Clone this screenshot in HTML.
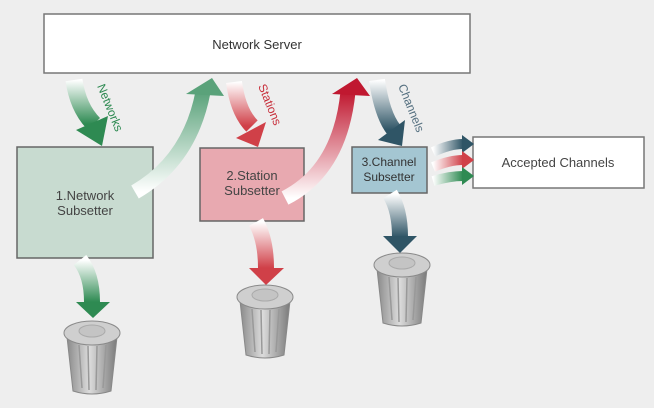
<!DOCTYPE html>
<html><head><style>
body{margin:0;width:654px;height:403px;background:#eeeeee;overflow:hidden;font-family:"Liberation Sans",sans-serif}
</style></head><body>
<svg width="654" height="403" viewBox="0 0 654 403" xmlns="http://www.w3.org/2000/svg" font-family="Liberation Sans, sans-serif">
<defs>
<linearGradient id="gd" x1="0" y1="0" x2="0" y2="1"><stop offset="0" stop-color="#fff"/><stop offset="1" stop-color="#2e8a52"/></linearGradient>
<linearGradient id="gu" x1="0" y1="1" x2="0" y2="0"><stop offset="0" stop-color="#fff"/><stop offset="1" stop-color="#5aa27a"/></linearGradient>
<linearGradient id="rd" x1="0" y1="0" x2="0" y2="1"><stop offset="0" stop-color="#fff"/><stop offset="1" stop-color="#d04048"/></linearGradient>
<linearGradient id="ru" x1="0" y1="1" x2="0" y2="0"><stop offset="0" stop-color="#fff"/><stop offset="1" stop-color="#c01830"/></linearGradient>
<linearGradient id="bd" x1="0" y1="0" x2="0" y2="1"><stop offset="0" stop-color="#fff"/><stop offset="1" stop-color="#2f5566"/></linearGradient>
<linearGradient id="hb" x1="0" y1="0" x2="1" y2="0"><stop offset="0" stop-color="#fff"/><stop offset="1" stop-color="#2f5566"/></linearGradient>
<linearGradient id="hr" x1="0" y1="0" x2="1" y2="0"><stop offset="0" stop-color="#fff"/><stop offset="1" stop-color="#d04048"/></linearGradient>
<linearGradient id="hg" x1="0" y1="0" x2="1" y2="0"><stop offset="0" stop-color="#fff"/><stop offset="1" stop-color="#2e8a52"/></linearGradient>
<linearGradient id="can" x1="0" y1="0" x2="1" y2="0"><stop offset="0" stop-color="#8a8a8a"/><stop offset=".45" stop-color="#dcdcdc"/><stop offset="1" stop-color="#7a7a7a"/></linearGradient>
<g id="trash">
<path d="M-25,4 L-19,58 Q0,64 19,58 L25,4 Z" fill="url(#can)" stroke="#888" stroke-width="1"/>
<g stroke="#999" stroke-width="1.5"><line x1="-13" y1="12" x2="-10" y2="55"/><line x1="-4" y1="13" x2="-3" y2="57"/><line x1="5" y1="13" x2="4" y2="57"/><line x1="14" y1="12" x2="11" y2="55"/></g>
<ellipse cx="0" cy="0" rx="28" ry="12" fill="#cfcfcf" stroke="#8a8a8a"/>
<ellipse cx="0" cy="-2" rx="13" ry="6" fill="#c4c4c4" stroke="#aaa"/>
</g>
</defs>
<rect x="44" y="14" width="426" height="59" fill="#fff" stroke="#777" stroke-width="1.5"/>
<text x="257" y="49" font-size="13" text-anchor="middle" fill="#333">Network Server</text>
<rect x="17" y="147" width="136" height="111" fill="#c8dbd0" stroke="#666" stroke-width="1.5"/>
<text x="85" y="200" font-size="13" text-anchor="middle" fill="#444">1.Network</text>
<text x="85" y="215" font-size="13" text-anchor="middle" fill="#444">Subsetter</text>
<rect x="200" y="148" width="104" height="73" fill="#e8a9b0" stroke="#666" stroke-width="1.5"/>
<text x="252" y="180" font-size="13" text-anchor="middle" fill="#444">2.Station</text>
<text x="252" y="195" font-size="13" text-anchor="middle" fill="#444">Subsetter</text>
<rect x="352" y="147" width="75" height="46" fill="#a4c6d2" stroke="#666" stroke-width="1.5"/>
<text x="389" y="166" font-size="12" text-anchor="middle" fill="#333">3.Channel</text>
<text x="389" y="181" font-size="12" text-anchor="middle" fill="#333">Subsetter</text>
<rect x="473" y="137" width="171" height="51" fill="#fff" stroke="#777" stroke-width="1.5"/>
<text x="558" y="167" font-size="13" text-anchor="middle" fill="#444">Accepted Channels</text>
<path d="M74,80 Q78,108 94,124" stroke="url(#gd)" stroke-width="17" fill="none"/>
<polygon points="76,130 108,116 102,146" fill="#2e8a52"/>
<path d="M135,192 Q190,160 203,92" stroke="url(#gu)" stroke-width="15" fill="none"/>
<polygon points="186,94 224,96 212,78" fill="#5aa27a"/>
<path d="M234,82 Q238,112 252,126" stroke="url(#rd)" stroke-width="16" fill="none"/>
<polygon points="236,138 266,122 258,147" fill="#d04048"/>
<path d="M285,198 Q340,170 348,92" stroke="url(#ru)" stroke-width="15" fill="none"/>
<polygon points="332,94 370,96 357,78" fill="#c01830"/>
<path d="M377,80 Q382,115 394,130" stroke="url(#bd)" stroke-width="16" fill="none"/>
<polygon points="378,140 405,120 402,146" fill="#2f5566"/>
<path d="M433,152 Q450,144 463,144" stroke="url(#hb)" stroke-width="10" fill="none"/><polygon points="462,135 474,144 462,153" fill="#2f5566"/>
<path d="M433,167 Q450,160 463,160" stroke="url(#hr)" stroke-width="10" fill="none"/><polygon points="462,151 474,160 462,169" fill="#d04048"/>
<path d="M433,181 Q450,176 463,176" stroke="url(#hg)" stroke-width="10" fill="none"/><polygon points="462,167 474,176 462,185" fill="#2e8a52"/>
<path d="M80,260 Q92,275 92,302" stroke="url(#gd)" stroke-width="16" fill="none"/>
<polygon points="76,302 110,302 93,318" fill="#2e8a52"/>
<path d="M256,222 Q266,240 266,268" stroke="url(#rd)" stroke-width="16" fill="none"/>
<polygon points="249,268 284,268 266,285" fill="#d04048"/>
<path d="M390,194 Q400,210 400,237" stroke="url(#bd)" stroke-width="16" fill="none"/>
<polygon points="383,236 417,236 400,253" fill="#2f5566"/>
<text font-size="12" fill="#2e8a52" transform="translate(97,86) rotate(68)">Networks</text>
<text font-size="12" fill="#c8303c" transform="translate(258,86) rotate(68)">Stations</text>
<text font-size="12" fill="#557080" transform="translate(398,86) rotate(68)">Channels</text>
<use href="#trash" x="92" y="333"/>
<use href="#trash" x="265" y="297"/>
<use href="#trash" x="402" y="265"/>
</svg>
</body></html>
